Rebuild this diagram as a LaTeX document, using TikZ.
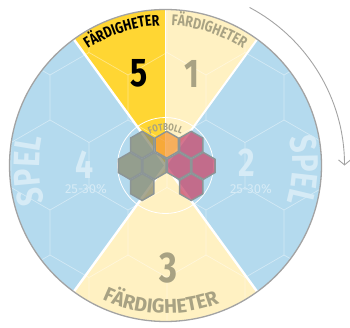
\documentclass[tikz,border=0pt]{standalone}
\usepackage{fontspec}
\setmainfont{Fira Sans}
\newfontfamily\condfont[FakeStretch=0.8]{Fira Sans}
\newfontfamily\widefont[FakeStretch=0.98]{Fira Sans}
\usetikzlibrary{decorations.text, arrows.meta}
\definecolor{field-blue}{HTML}{B4DAEE}
\definecolor{skill-gold}{HTML}{FFD633}
\definecolor{skill-pale}{HTML}{FFF1C2}
\definecolor{skill-grey}{HTML}{A8A283}
\definecolor{rim-grey}{HTML}{A3A3A3}
\definecolor{hex-grey}{HTML}{8A8A6E}
\definecolor{hex-red}{HTML}{C8486A}
\definecolor{hex-orange}{HTML}{F59A3A}
\definecolor{hex-edge}{HTML}{8C9596}
\colorlet{faint}{white!45!field-blue}

\tikzset{
  cell/.style={draw=hex-edge, line width=1.4pt, fill opacity=0.75},
  arctext/.style={decorate, decoration={text along path, text align=center,
    text={#1}}},
}

\begin{document}
\begin{tikzpicture}[x=1pt, y=1pt]
    \useasboundingbox (0,0) rectangle (350,327);
    \coordinate (C) at (165.5,161.5);
    % sectors
    \fill[field-blue] (C) circle[radius=156];
    \fill[skill-gold] (C) -- ++(90:156) arc[start angle=90, end angle=126, radius=156] -- cycle;
    \fill[skill-pale] (C) -- ++(54:156) arc[start angle=54, end angle=90, radius=156] -- cycle;
    \fill[skill-pale] (C) -- ++(234:156) arc[start angle=234, end angle=306, radius=156] -- cycle;
    % faint grid
    \begin{scope}
      \clip (C) circle[radius=156];
      \foreach \j in {-1,...,5} {
        \pgfmathsetmacro\gy{27+67.5*\j}
        \pgfmathsetmacro\gx{isodd(\j) ? 11 : 50}
        \foreach \i in {-1,...,4}
          \draw[white, opacity=0.4, line width=0.7pt, shift={(\gx+78*\i,\gy)}]
            (90:45) -- (150:45) -- (210:45) -- (270:45);
      }
    \end{scope}
    \foreach \a/\w in {54/2pt, 90/1.2pt, 126/2.4pt, 234/2.4pt, 306/2.4pt}
      \draw[white, line width=\w] (C) -- ++(\a:156);
    \draw[white, line width=0.8pt] (C) circle[radius=48];
    \draw[rim-grey, line width=1.3pt] (C) circle[radius=156];
    % labels
    \path[arctext={|\condfont\bfseries\fontsize{15.5}{15.5}\selectfont\color{black}|FÄRDIGHETER}]
      (C) ++(128:140) arc[start angle=128, end angle=88, radius=140];
    \path[arctext={|\condfont\bfseries\fontsize{15.5}{15.5}\selectfont\color{skill-grey}|FÄRDIGHETER}]
      (C) ++(92:140) arc[start angle=92, end angle=52, radius=140];
    \path[arctext={|\widefont\bfseries\fontsize{20}{20}\selectfont\color{skill-grey}|FÄRDIGHETER}]
      (C) ++(228:148) arc[start angle=228, end angle=308, radius=148];
    \path[arctext={|\condfont\bfseries\fontsize{37}{37}\selectfont\color{faint}|SPEL}]
      (C) ++(202:126) arc[start angle=202, end angle=162, radius=126];
    \path[arctext={|\condfont\bfseries\fontsize{37}{37}\selectfont\color{faint}|SPEL}]
      (C) ++(18:127) arc[start angle=18, end angle=-22, radius=127];
    \path[arctext={|\condfont\bfseries\fontsize{10}{10}\selectfont\color{skill-grey}|FOTBOLL}]
      (C) ++(125:35) arc[start angle=125, end angle=55, radius=35];
    \node[font=\condfont\bfseries\fontsize{40}{40}\selectfont, text=black] (n5) at (139,254) {5};
    \node[font=\condfont\bfseries\fontsize{40}{40}\selectfont, text=skill-grey] (n1) at (192,253) {1};
    \node[font=\condfont\bfseries\fontsize{43}{43}\selectfont, text=skill-grey] (n3) at (168,59) {3};
    \node[font=\condfont\bfseries\fontsize{40}{40}\selectfont, text=faint] (n4) at (85,162) {4};
    \node[font=\condfont\bfseries\fontsize{40}{40}\selectfont, text=faint] (n2) at (247,164) {2};
    \node[font=\fontsize{13}{13}\selectfont, text=faint] (p4) at (86,138) {25-30\%};
    \node[font=\fontsize{13}{13}\selectfont, text=faint] (p2) at (251,138) {25-30\%};
    % hex cluster
    \foreach \hx/\hy/\hc in {142.2/182.3/hex-grey, 166.7/182.3/hex-orange, 191.2/182.3/hex-red,
        129.95/161.1/hex-grey, 154.45/161.1/hex-grey, 178.95/161.1/hex-red, 203.45/161.1/hex-red,
        142.2/139.9/hex-grey, 191.2/139.9/hex-red}
      \filldraw[cell, fill=\hc, shift={(\hx,\hy)}]
        (90:13.4) -- (150:13.4) -- (210:13.4) -- (270:13.4) -- (330:13.4) -- (30:13.4) -- cycle;
    % turn arrow
    \draw[rim-grey, line width=0.9pt, -{Straight Barb[length=5pt, width=12pt]}]
      (C) ++(62:179) arc[start angle=62, end angle=0, radius=179];
  \end{tikzpicture}
\end{document}
